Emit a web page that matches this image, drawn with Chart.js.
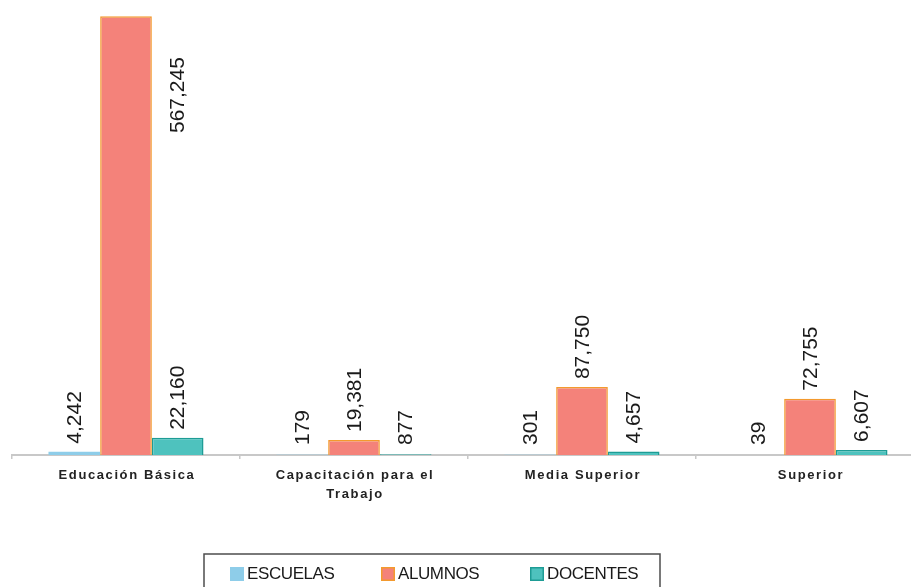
<!DOCTYPE html>
<html>
<head>
<meta charset="utf-8">
<script src="https://cdn.jsdelivr.net/npm/chart.js@4"></script>
<style>
html,body{margin:0;padding:0;background:#fff;overflow:hidden;}
#wrap{width:911px;height:587px;position:relative;overflow:hidden;}
#c{position:absolute;left:0;top:0;}
</style>
</head>
<body>
<div id="wrap"><canvas id="c" width="924" height="587"></canvas></div>
<script>
const categories = [["Educación Básica"], ["Capacitación para el", "Trabajo"], ["Media Superior"], ["Superior"]];
const escuelas = [4242, 179, 301, 39];
const alumnos = [567245, 19381, 87750, 72755];
const docentes = [22160, 877, 4657, 6607];
const seriesNames = ["ESCUELAS", "ALUMNOS", "DOCENTES"];
const yMax = 570000;

const fills = ["#8ECDE9", "#F4827A", "#4EC2BE"];
const borders = ["#8ECDE9", "#F39A2E", "#1E9C95"];

function fmt(v){ return v.toLocaleString('en-US'); }

const labelPlugin = {
  id: 'customDraw',
  afterDatasetsDraw(chart){
    const ctx = chart.ctx;
    const area = chart.chartArea;
    ctx.save();
    ctx.fillStyle = '#1a1a1a';
    ctx.font = '21px "Liberation Sans", Arial, sans-serif';
    ctx.textBaseline = 'middle';
    chart.data.datasets.forEach((ds, di) => {
      const meta = chart.getDatasetMeta(di);
      meta.data.forEach((bar, i) => {
        const txt = fmt(ds.data[i]);
        const w = ctx.measureText(txt).width;
        const top = Math.min(bar.y, bar.base - 2);
        ctx.save();
        if (top - 8 - w < area.top) {
          ctx.translate(bar.x + bar.width + 1, bar.y + 41);
          ctx.rotate(-Math.PI/2);
          ctx.textAlign = 'right';
        } else {
          ctx.translate(bar.x + 1, top - 8);
          ctx.rotate(-Math.PI/2);
          ctx.textAlign = 'left';
        }
        ctx.fillText(txt, 0, 0);
        ctx.restore();
      });
    });
    ctx.restore();
  },
  afterDraw(chart){
    const ctx = chart.ctx;
    const xs = chart.scales.x;
    ctx.save();
    ctx.fillStyle = '#222222';
    ctx.font = 'bold 13px "Liberation Sans", Arial, sans-serif';
    ctx.textAlign = 'center';
    ctx.textBaseline = 'middle';
    try { ctx.letterSpacing = '1.6px'; } catch(e) {}
    categories.forEach((lines, i) => {
      const x = xs.getPixelForTick(i);
      lines.forEach((ln, j) => {
        ctx.fillText(ln, x + 1, 475 + j * 19);
      });
    });
    try { ctx.letterSpacing = '0px'; } catch(e) {}
    const boxL = 204, boxT = 554, boxR = 660, boxB = 590;
    ctx.strokeStyle = '#4d4d4d';
    ctx.lineWidth = 1.5;
    ctx.strokeRect(boxL, boxT, boxR - boxL, boxB - boxT);
    ctx.font = '17px "Liberation Sans", Arial, sans-serif';
    ctx.textAlign = 'left';
    const itemX = [230, 381, 530];
    seriesNames.forEach((name, i) => {
      const x = itemX[i];
      ctx.fillStyle = fills[i];
      ctx.fillRect(x, 567, 14, 14);
      if (i > 0) {
        ctx.strokeStyle = borders[i];
        ctx.lineWidth = 1.5;
        ctx.strokeRect(x + 0.75, 567.75, 12.5, 12.5);
      }
      ctx.fillStyle = '#1a1a1a';
      try { ctx.letterSpacing = '-0.4px'; } catch(e) {}
      ctx.fillText(name, x + 17, 574);
      try { ctx.letterSpacing = '0px'; } catch(e) {}
    });
    ctx.restore();
  }
};

new Chart(document.getElementById('c'), {
  type: 'bar',
  data: {
    labels: categories.map(c => c.join(' ')),
    datasets: [
      { label: seriesNames[0], data: escuelas, backgroundColor: fills[0], borderColor: borders[0], borderWidth: 0 },
      { label: seriesNames[1], data: alumnos, backgroundColor: fills[1], borderColor: borders[1], borderWidth: 1.5 },
      { label: seriesNames[2], data: docentes, backgroundColor: fills[2], borderColor: borders[2], borderWidth: 1.5 }
    ]
  },
  options: {
    responsive: false,
    animation: false,
    devicePixelRatio: 1,
    layout: { padding: { left: 12, right: 0, top: 14, bottom: 0 } },
    plugins: { legend: { display: false }, tooltip: { enabled: false } },
    datasets: { bar: { categoryPercentage: 0.68, barPercentage: 1.0 } },
    scales: {
      x: {
        offset: true,
        grid: { display: true, drawOnChartArea: false, offset: true, tickLength: 4, color: '#c8c8c8', lineWidth: 1.5 },
        border: { display: true, color: '#c8c8c8', width: 2 },
        ticks: { display: false },
        afterFit(s){ s.height = 132; }
      },
      y: {
        display: false,
        min: 0,
        max: yMax
      }
    }
  },
  plugins: [labelPlugin]
});
</script>
</body>
</html>
